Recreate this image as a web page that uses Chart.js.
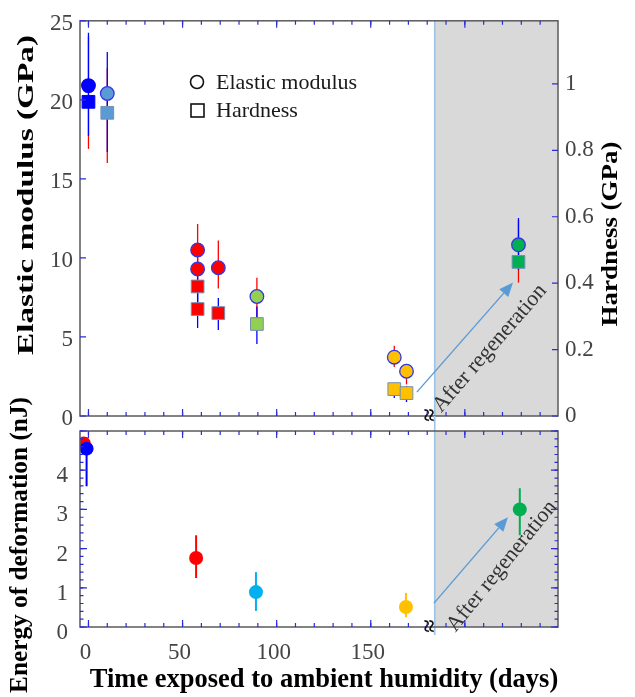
<!DOCTYPE html>
<html><head><meta charset="utf-8">
<script src="https://cdn.jsdelivr.net/npm/chart.js@4.4.1/dist/chart.umd.min.js"></script>
<style>
html,body{margin:0;padding:0;background:#fff;}
#wrap{position:relative;width:635px;height:697px;}
canvas{position:absolute;left:0;top:0;}
</style></head><body>
<div id="wrap"><canvas id="topc" width="635" height="697"></canvas><canvas id="botc" width="635" height="697"></canvas></div>
<script>
// ---- tick labels ----
const dayTicks = [0, 50, 100, 150];
const modulusTicks = [0, 5, 10, 15, 20, 25];
const hardnessTicks = [0, 0.2, 0.4, 0.6, 0.8, 1];
const energyTicks = [0, 1, 2, 3, 4];

// ---- top panel: elastic modulus (circles) & hardness (squares) ----
const sampleDays  = [0, 10, 58, 58, 69, 89.5, 162.5, 169, 228.5];
const modulus     = [20.9, 20.4, 10.5, 9.3, 9.38, 7.56, 3.72, 2.83, 10.83];
const modulusLo   = [16.9, 16.0, 8.8, 8.0, 8.06, 6.2, 3.1, 2.0, 8.44];
const modulusHi   = [24.0, 22.0, 12.15, 10.6, 11.1, 8.75, 4.45, 3.3, 12.4];
const hardness    = [0.946, 0.913, 0.39, 0.322, 0.31, 0.277, 0.081, 0.069, 0.464];
const hardnessLo  = [0.843, 0.795, 0.33, 0.265, 0.259, 0.217, 0.054, 0.042, 0.44];
const hardnessHi  = [1.154, 1.096, 0.42, 0.37, 0.355, 0.33, 0.10, 0.09, 0.596];
const sampleColors = ['#0000ff', '#5b9bd5', '#ff0000', '#ff0000', '#ff0000', '#92d050', '#ffc000', '#ffc000', '#00b050'];

// ---- bottom panel: energy of deformation ----
const energyDays   = [-2.5, -1, 57.2, 89, 168.7, 229.2];
const energy       = [4.68, 4.55, 1.76, 0.89, 0.51, 3.0];
const energyLo     = [4.68, 3.59, 1.25, 0.41, 0.25, 2.34];
const energyHi     = [4.68, 4.84, 2.34, 1.40, 0.87, 3.54];
const energyColors = ['#ff0000', '#0000ff', '#ff0000', '#00b0f0', '#ffc000', '#00b050'];

const regenDay = 184;
const dayMin = -4.5, dayMax = 249.5;

const serif = "'Liberation Serif', 'Times New Roman', serif";
const tickBlue = '#2a2ae0';
const frameColor = '#5a5a5a';
const labelColor = '#444444';

function txt(ctx, s, x, y, o) {
  ctx.save();
  ctx.translate(x, y);
  if (o.rot) ctx.rotate(o.rot);
  ctx.font = o.font;
  ctx.fillStyle = o.color || '#000';
  ctx.textAlign = o.align || 'center';
  ctx.textBaseline = o.baseline || 'middle';
  if (o.len) { const w = ctx.measureText(s).width; ctx.scale(o.len / w, 1); }
  ctx.fillText(s, 0, 0);
  ctx.restore();
}

function tickMarks(ctx, chart, scaleId, values, len, sides) {
  const s = chart.scales[scaleId], a = chart.chartArea;
  ctx.beginPath();
  values.forEach(v => {
    const p = s.getPixelForValue(v);
    if (s.isHorizontal()) {
      if (p < a.left - 0.5 || p > a.right + 0.5) return;
      ctx.moveTo(p, a.top); ctx.lineTo(p, a.top + len);
      ctx.moveTo(p, a.bottom); ctx.lineTo(p, a.bottom - len);
    } else {
      sides.forEach(sd => {
        if (sd === 'left') { ctx.moveTo(a.left, p); ctx.lineTo(a.left + len, p); }
        else { ctx.moveTo(a.right, p); ctx.lineTo(a.right - len, p); }
      });
    }
  });
  ctx.stroke();
}

function arrow(ctx, x1, y1, x2, y2) {
  const ang = Math.atan2(y2 - y1, x2 - x1), hl = 14, hw = 6;
  ctx.save();
  ctx.strokeStyle = '#5b9bd5'; ctx.fillStyle = '#5b9bd5'; ctx.lineWidth = 1.4;
  ctx.beginPath(); ctx.moveTo(x1, y1);
  ctx.lineTo(x2 - hl * Math.cos(ang), y2 - hl * Math.sin(ang)); ctx.stroke();
  ctx.beginPath(); ctx.moveTo(x2, y2);
  ctx.lineTo(x2 - hl * Math.cos(ang) + hw * Math.sin(ang), y2 - hl * Math.sin(ang) - hw * Math.cos(ang));
  ctx.lineTo(x2 - hl * Math.cos(ang) - hw * Math.sin(ang), y2 - hl * Math.sin(ang) + hw * Math.cos(ang));
  ctx.closePath(); ctx.fill();
  ctx.restore();
}

function range(a, b, st) { const r = []; for (let v = a; v <= b + 1e-9; v += st) r.push(+v.toFixed(4)); return r; }
const minorDays = range(0, 240, 10), majorDays = range(0, 200, 50);

function shadeRegion(chart) {
  const ctx = chart.ctx, a = chart.chartArea, xs = chart.scales.x;
  const xr = xs.getPixelForValue(regenDay);
  ctx.save();
  ctx.fillStyle = '#d9d9d9';
  ctx.fillRect(xr, a.top, a.right - xr, a.bottom - a.top);
  ctx.restore();
}

function errBars(chart, days, lo, hi, yId, colors, lw) {
  const ctx = chart.ctx, xs = chart.scales.x, ys = chart.scales[yId];
  ctx.save(); ctx.lineWidth = lw;
  days.forEach((d, i) => {
    const x = xs.getPixelForValue(d);
    ctx.strokeStyle = Array.isArray(colors) ? colors[i] : colors;
    ctx.beginPath(); ctx.moveTo(x, ys.getPixelForValue(lo[i])); ctx.lineTo(x, ys.getPixelForValue(hi[i])); ctx.stroke();
  });
  ctx.restore();
}

function frameAndBreak(chart, lineTop, lineBottom) {
  const ctx = chart.ctx, a = chart.chartArea, xs = chart.scales.x;
  const xr = xs.getPixelForValue(regenDay);
  ctx.save();
  ctx.strokeStyle = '#9dc3e6'; ctx.lineWidth = 1.6;
  ctx.beginPath(); ctx.moveTo(xr, lineTop); ctx.lineTo(xr, lineBottom); ctx.stroke();
  ctx.strokeStyle = frameColor; ctx.lineWidth = 1.5;
  ctx.strokeRect(a.left, a.top, a.right - a.left, a.bottom - a.top);
  txt(ctx, '\u2248', xr - 8, a.bottom - 1, { font: 'bold 24px ' + serif, rot: Math.PI / 2, color: '#111' });
  ctx.restore();
}

// ---------------- TOP CHART ----------------
const topPlugin = {
  id: 'topDecor',
  beforeDatasetsDraw(chart) {
    shadeRegion(chart);
    errBars(chart, sampleDays, modulusLo, modulusHi, 'y', '#ff0000', 1.3);
    errBars(chart, sampleDays, hardnessLo, hardnessHi, 'y2', '#0000ff', 1.3);
  },
  afterDatasetsDraw(chart) {
    const ctx = chart.ctx, xs = chart.scales.x, ys = chart.scales.y;
    const a = chart.chartArea;
    frameAndBreak(chart, a.top, a.bottom);
    ctx.save();
    ctx.strokeStyle = tickBlue; ctx.lineWidth = 1.2;
    tickMarks(ctx, chart, 'x', minorDays, 4);
    tickMarks(ctx, chart, 'x', majorDays, 7);
    tickMarks(ctx, chart, 'y', modulusTicks, 6, ['left']);
    tickMarks(ctx, chart, 'y2', hardnessTicks, 6, ['right']);
    ctx.restore();
    arrow(ctx, xs.getPixelForValue(174.5), ys.getPixelForValue(1.51), xs.getPixelForValue(225.6), ys.getPixelForValue(8.44));
    txt(ctx, 'After regeneration', xs.getPixelForValue(213.3), ys.getPixelForValue(4.28),
        { font: '22px ' + serif, rot: -49 * Math.PI / 180, color: '#333' });
    // legend
    ctx.save();
    ctx.strokeStyle = '#111'; ctx.lineWidth = 1.6;
    ctx.beginPath(); ctx.arc(197, 82, 6.5, 0, Math.PI * 2); ctx.stroke();
    ctx.strokeRect(191, 104, 13, 13);
    ctx.restore();
    txt(ctx, 'Elastic modulus', 216, 83, { font: '22px ' + serif, align: 'left', color: '#1a1a1a' });
    txt(ctx, 'Hardness', 216, 111, { font: '22px ' + serif, align: 'left', color: '#1a1a1a' });
    // axis titles
    txt(ctx, 'Elastic modulus (GPa)', 27, 195, { font: 'bold 24px ' + serif, rot: -Math.PI / 2, len: 320 });
    txt(ctx, 'Hardness (GPa)', 611, 234, { font: 'bold 24px ' + serif, rot: -Math.PI / 2, len: 185 });
  }
};

const lblFont = { family: serif, size: 23 };

new Chart(document.getElementById('topc'), {
  type: 'scatter',
  data: {
    datasets: [
      {
        label: 'Elastic modulus', yAxisID: 'y',
        data: sampleDays.map((d, i) => ({ x: d, y: modulus[i] })),
        pointStyle: 'circle', pointRadius: 6.8,
        pointBackgroundColor: sampleColors,
        pointBorderColor: sampleColors.map((c, i) => i === 0 ? '#0000ff' : '#3535e5'),
        pointBorderWidth: 1.3
      },
      {
        label: 'Hardness', yAxisID: 'y2',
        data: sampleDays.map((d, i) => ({ x: d, y: hardness[i] })),
        pointStyle: 'rect', pointRadius: 9,
        pointBackgroundColor: sampleColors,
        pointBorderColor: sampleColors.map((c, i) => i === 0 ? '#0000ff' : '#7090b8'),
        pointBorderWidth: 1
      }
    ]
  },
  options: {
    responsive: false, animation: false, devicePixelRatio: 1,
    layout: { padding: { top: 19, left: 0, right: 0, bottom: 0 } },
    plugins: { legend: { display: false }, tooltip: { enabled: false } },
    scales: {
      x: {
        type: 'linear', min: dayMin, max: dayMax, position: 'bottom',
        ticks: { display: false }, grid: { display: false, drawTicks: false }, border: { display: false },
        afterFit(s) { s.height = 281; }
      },
      y: {
        type: 'linear', min: 0, max: 25, position: 'left',
        afterBuildTicks(s) { s.ticks = modulusTicks.map(v => ({ value: v })); },
        ticks: { font: lblFont, color: labelColor, padding: 7, labelOffset: 3, callback: v => String(v) },
        grid: { display: false, drawTicks: false }, border: { display: false },
        afterFit(s) { s.width = 80; }
      },
      y2: {
        type: 'linear', min: 0, max: 1.19, position: 'right',
        afterBuildTicks(s) { s.ticks = hardnessTicks.map(v => ({ value: v })); },
        ticks: { font: lblFont, color: labelColor, padding: 7, callback: v => String(v) },
        grid: { display: false, drawTicks: false }, border: { display: false },
        afterFit(s) { s.width = 77; }
      }
    }
  },
  plugins: [topPlugin]
});

// ---------------- BOTTOM CHART ----------------
const botPlugin = {
  id: 'botDecor',
  beforeDatasetsDraw(chart) {
    shadeRegion(chart);
    errBars(chart, energyDays, energyLo, energyHi, 'y', energyColors, 2);
  },
  afterDatasetsDraw(chart) {
    const ctx = chart.ctx, xs = chart.scales.x, ys = chart.scales.y;
    const a = chart.chartArea;
    frameAndBreak(chart, 416, a.bottom + 8);
    ctx.save();
    ctx.strokeStyle = tickBlue; ctx.lineWidth = 1.2;
    tickMarks(ctx, chart, 'x', minorDays, 4);
    tickMarks(ctx, chart, 'x', majorDays, 7);
    tickMarks(ctx, chart, 'y', range(0, 5, 0.2), 3.5, ['left', 'right']);
    tickMarks(ctx, chart, 'y', range(0, 5, 1), 7, ['left', 'right']);
    ctx.restore();
    arrow(ctx, xs.getPixelForValue(183.6), ys.getPixelForValue(0.61), xs.getPixelForValue(222.9), ys.getPixelForValue(2.8));
    txt(ctx, 'After regeneration', xs.getPixelForValue(219.7), ys.getPixelForValue(1.55),
        { font: '22px ' + serif, rot: -51 * Math.PI / 180, color: '#333' });
    txt(ctx, 'Energy of deformation (nJ)', 20, 545, { font: 'bold 26px ' + serif, rot: -Math.PI / 2, len: 296 });
    txt(ctx, 'Time exposed to ambient humidity (days)', 324, 680, { font: 'bold 26.5px ' + serif });
  }
};

new Chart(document.getElementById('botc'), {
  type: 'scatter',
  data: {
    datasets: [{
      label: 'Energy of deformation',
      data: energyDays.map((d, i) => ({ x: d, y: energy[i] })),
      pointStyle: 'circle', pointRadius: 7,
      pointBackgroundColor: energyColors, pointBorderColor: energyColors, pointBorderWidth: 0,
      clip: 0
    }]
  },
  options: {
    responsive: false, animation: false, devicePixelRatio: 1,
    layout: { padding: { top: 431, left: 0, right: 77, bottom: 0 } },
    plugins: { legend: { display: false }, tooltip: { enabled: false } },
    scales: {
      x: {
        type: 'linear', min: dayMin, max: dayMax, position: 'bottom',
        afterBuildTicks(s) { s.ticks = dayTicks.map(v => ({ value: v })); },
        ticks: { font: lblFont, color: labelColor, padding: 12, labelOffset: -3, maxRotation: 0, callback: v => String(v) },
        grid: { display: false, drawTicks: false }, border: { display: false },
        afterFit(s) { s.height = 70; }
      },
      y: {
        type: 'linear', min: 0, max: 5, position: 'left',
        afterBuildTicks(s) { s.ticks = energyTicks.map(v => ({ value: v })); },
        ticks: { font: lblFont, color: labelColor, padding: 12, labelOffset: 6, callback: v => String(v) },
        grid: { display: false, drawTicks: false }, border: { display: false },
        afterFit(s) { s.width = 80; }
      }
    }
  },
  plugins: [botPlugin]
});
</script>
</body></html>
